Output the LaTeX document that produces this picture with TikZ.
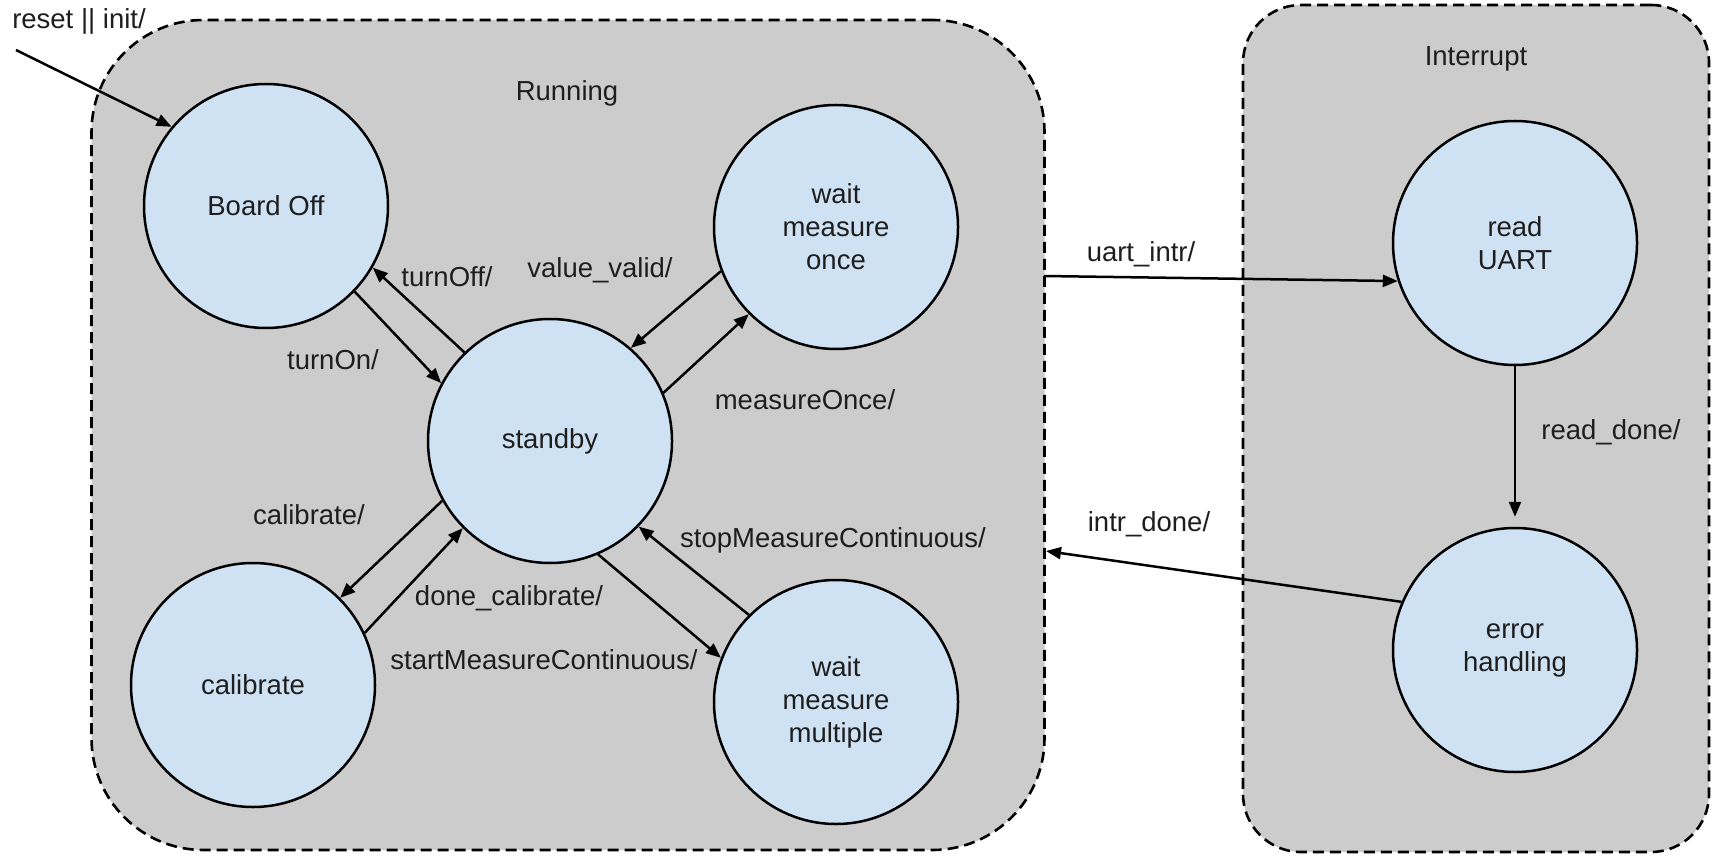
\documentclass[tikz,border=0pt]{standalone}
\usepackage{fontspec}
\setmainfont{Liberation Sans}
\usetikzlibrary{arrows.meta}
\definecolor{boxgray}{HTML}{CCCCCC}
\definecolor{stateblue}{HTML}{CFE2F3}
\definecolor{txt}{HTML}{1E1E1E}
\begin{document}
\begin{tikzpicture}[x=1pt,y=-1pt,
  font=\fontsize{27.5}{33}\selectfont,
  state/.style={circle, draw=black, line width=2.5pt, fill=stateblue, minimum size=244pt, inner sep=0pt, align=center, text=txt},
  region/.style={draw=black, line width=2.6pt, dash pattern=on 11pt off 6pt, fill=boxgray, inner sep=0pt},
  lbl/.style={text=txt, inner sep=0pt},
  trans/.style={line width=2.5pt, -{Triangle[length=15pt,width=12pt]}},
]
\useasboundingbox (0,0) rectangle (1715,858);
\fill[white] (0,0) rectangle (1715,858);
% regions
\node[region, rounded corners=112pt, minimum width=953pt, minimum height=830pt] (running) at (568,435) {};
\node[region, rounded corners=58pt, minimum width=466pt, minimum height=847pt] (interrupt) at (1476,428.5) {};
\node[lbl] (runlbl) at (567,93) {Running};
\node[lbl] (intlbl) at (1476,59) {Interrupt};
% states
\node[state] (boardoff) at (266,206) {Board Off};
\node[state] (standby) at (550,441) {standby};
\node[state] (waitonce) at (836,227) {wait\\measure\\once};
\node[state] (calib) at (253,685) {calibrate};
\node[state] (waitmulti) at (836,702) {wait\\measure\\multiple};
\node[state] (readuart) at (1515,243) {read\\UART};
\node[state] (errh) at (1515,650) {error\\handling};
% free ends
\coordinate (initsrc) at (16,50);
\coordinate (uartsrc) at (1044,276);
\coordinate (intrdst) at (1046,551);
% transitions
\draw[trans] (initsrc) -- (boardoff.140.7);
\draw[trans] (boardoff.-44.3) -- (standby.152.8);
\draw[trans] (standby.134.7) -- (boardoff.-30);
\draw[trans] (waitonce.201) -- (standby.49);
\draw[trans] (standby.23) -- (waitonce.225.3);
\draw[trans] (standby.209) -- (calib.45);
\draw[trans] (calib.25.6) -- (standby.225);
\draw[trans] (standby.-67.6) -- (waitmulti.159.5);
\draw[trans] (waitmulti.135.7) -- (standby.-44.7);
\draw[trans] (uartsrc) -- (readuart.198);
\draw[trans, shorten >=10pt] (readuart.south) -- (errh.north);
\draw[trans] (errh.157) -- (intrdst);
% labels
\node[lbl] (l1) at (79,21) {reset || init/};
\node[lbl] (l2) at (447,277) {turnOff/};
\node[lbl] (l3) at (600,270) {value\_valid/};
\node[lbl] (l4) at (333,360) {turnOn/};
\node[lbl] (l5) at (805,400) {measureOnce/};
\node[lbl] (l6) at (309,515) {calibrate/};
\node[lbl] (l7) at (509,598) {done\_calibrate/};
\node[lbl] (l8) at (544,660) {startMeasureContinuous/};
\node[lbl] (l9) at (833,540) {stopMeasureContinuous/};
\node[lbl] (l10) at (1141,254) {uart\_intr/};
\node[lbl] (l11) at (1149,524) {intr\_done/};
\node[lbl] (l12) at (1611,432) {read\_done/};
\end{tikzpicture}
\end{document}
